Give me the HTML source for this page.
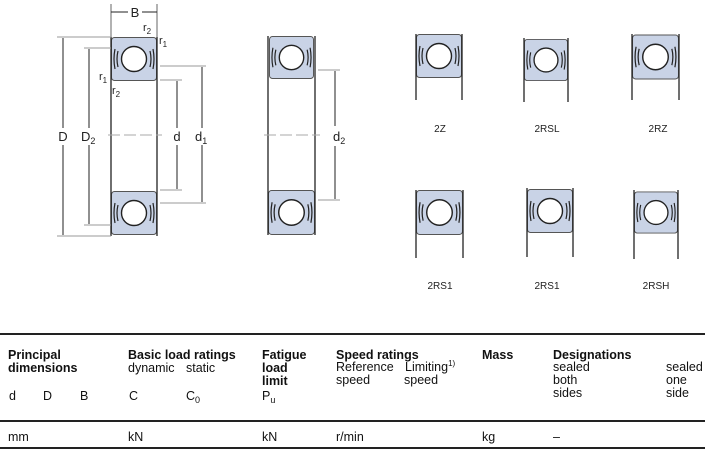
<!DOCTYPE html>
<html><head><meta charset="utf-8"><style>
html,body{margin:0;padding:0;background:#fff;}
svg{display:block;}
text{font-family:"Liberation Sans",sans-serif;}
</style></head><body>
<svg width="705" height="465" viewBox="0 0 705 465" xmlns="http://www.w3.org/2000/svg">
<defs>
<symbol id="blk" viewBox="0 0 46 44" width="46" height="44" overflow="visible">
<rect x="0.5" y="0.5" width="45" height="43" rx="3" fill="#c9d3e6" stroke="#555" stroke-width="1"/>
<circle cx="23" cy="22" r="12.5" fill="#fff" stroke="#222" stroke-width="1.4"/>
<path d="M4 12 q-2 10 0 20 M7 14 q-2 8 0 16 M42 12 q2 10 0 20 M39 14 q2 8 0 16" fill="none" stroke="#222" stroke-width="1.2"/>
</symbol>
</defs>
<g stroke="#222" stroke-width="1" fill="none">
<use href="#blk" x="111" y="37" width="46" height="44"/>
<use href="#blk" x="111" y="190" width="46" height="46"/>
<line x1="111" y1="37" x2="111" y2="236" stroke-width="1.3"/>
<line x1="157" y1="37" x2="157" y2="236" stroke-width="1.3"/>
<line x1="108" y1="135" x2="162" y2="135" stroke="#aaa" stroke-dasharray="12,4"/>
<line x1="111" y1="4" x2="111" y2="37" stroke="#666"/><line x1="157" y1="4" x2="157" y2="37" stroke="#666"/>
<line x1="111" y1="12" x2="128" y2="12"/><line x1="142" y1="12" x2="157" y2="12"/>
<line x1="57" y1="37" x2="111" y2="37" stroke="#999"/><line x1="57" y1="236" x2="111" y2="236" stroke="#999"/>
<line x1="63" y1="38" x2="63" y2="128"/><line x1="63" y1="145" x2="63" y2="235"/>
<line x1="84" y1="48" x2="111" y2="48" stroke="#999"/><line x1="84" y1="225" x2="111" y2="225" stroke="#999"/>
<line x1="89" y1="49" x2="89" y2="128"/><line x1="89" y1="145" x2="89" y2="224"/>
<line x1="160" y1="80" x2="182" y2="80" stroke="#999"/><line x1="160" y1="190" x2="182" y2="190" stroke="#999"/>
<line x1="177" y1="81" x2="177" y2="128"/><line x1="177" y1="145" x2="177" y2="189"/>
<line x1="160" y1="66" x2="206" y2="66" stroke="#999"/><line x1="160" y1="203" x2="206" y2="203" stroke="#999"/>
<line x1="202" y1="67" x2="202" y2="128"/><line x1="202" y1="145" x2="202" y2="202"/>
<use href="#blk" x="268" y="36" width="47" height="43"/>
<use href="#blk" x="268" y="190" width="47" height="45"/>
<line x1="268" y1="36" x2="268" y2="235" stroke-width="1.3"/>
<line x1="315" y1="36" x2="315" y2="235" stroke-width="1.3"/>
<line x1="264" y1="135" x2="320" y2="135" stroke="#aaa" stroke-dasharray="12,4"/>
<line x1="318" y1="70" x2="340" y2="70" stroke="#999"/><line x1="318" y1="200" x2="340" y2="200" stroke="#999"/>
<line x1="335" y1="71" x2="335" y2="126"/><line x1="335" y1="146" x2="335" y2="199"/>
<use href="#blk" x="416" y="34" width="46" height="44"/><line x1="416" y1="34" x2="416" y2="100" stroke-width="1.3"/><line x1="462" y1="34" x2="462" y2="100" stroke-width="1.3"/>
<use href="#blk" x="524" y="38" width="44" height="44"/><line x1="524" y1="38" x2="524" y2="102" stroke-width="1.3"/><line x1="568" y1="38" x2="568" y2="102" stroke-width="1.3"/>
<use href="#blk" x="632" y="34" width="47" height="46"/><line x1="632" y1="34" x2="632" y2="100" stroke-width="1.3"/><line x1="679" y1="34" x2="679" y2="100" stroke-width="1.3"/>
<use href="#blk" x="416" y="190" width="47" height="45"/><line x1="416" y1="190" x2="416" y2="258" stroke-width="1.3"/><line x1="463" y1="190" x2="463" y2="258" stroke-width="1.3"/>
<use href="#blk" x="527" y="188" width="46" height="46"/><line x1="527" y1="188" x2="527" y2="257" stroke-width="1.3"/><line x1="573" y1="188" x2="573" y2="257" stroke-width="1.3"/>
<use href="#blk" x="634" y="190" width="44" height="45"/><line x1="634" y1="190" x2="634" y2="259" stroke-width="1.3"/><line x1="678" y1="190" x2="678" y2="259" stroke-width="1.3"/>
<line x1="0" y1="334" x2="705" y2="334" stroke-width="2"/>
<line x1="0" y1="421" x2="705" y2="421" stroke-width="2"/>
<line x1="0" y1="448" x2="705" y2="448" stroke-width="2"/>
</g>
<g fill="#222" font-size="13">
<text x="135" y="17" text-anchor="middle">B</text>
<text x="143" y="31" font-size="11">r<tspan font-size="8" dy="3">2</tspan></text>
<text x="159" y="44" font-size="11">r<tspan font-size="8" dy="3">1</tspan></text>
<text x="99" y="80" font-size="11">r<tspan font-size="8" dy="3">1</tspan></text>
<text x="112" y="94" font-size="11">r<tspan font-size="8" dy="3">2</tspan></text>
<text x="63" y="141" text-anchor="middle">D</text>
<text x="81" y="141">D<tspan font-size="9" dy="3">2</tspan></text>
<text x="177" y="141" text-anchor="middle">d</text>
<text x="195" y="141">d<tspan font-size="9" dy="3">1</tspan></text>
<text x="333" y="141">d<tspan font-size="9" dy="3">2</tspan></text>
</g>
<g fill="#222" font-size="10" text-anchor="middle">
<text x="440" y="132">2Z</text><text x="547" y="132">2RSL</text><text x="658" y="132">2RZ</text>
<text x="440" y="289">2RS1</text><text x="547" y="289">2RS1</text><text x="656" y="289">2RSH</text>
</g>
<g fill="#111" font-size="12.5">
<g font-weight="bold">
<text x="8" y="359">Principal</text><text x="8" y="372">dimensions</text>
<text x="128" y="359">Basic load ratings</text>
<text x="262" y="359">Fatigue</text><text x="262" y="372">load</text><text x="262" y="385">limit</text>
<text x="336" y="359">Speed ratings</text>
<text x="482" y="359">Mass</text>
<text x="553" y="359">Designations</text>
</g>
<text x="128" y="372">dynamic</text><text x="186" y="372">static</text>
<text x="336" y="371">Reference</text><text x="405" y="371">Limiting<tspan font-size="8" dy="-5">1)</tspan></text>
<text x="336" y="384">speed</text><text x="404" y="384">speed</text>
<text x="553" y="371">sealed</text><text x="553" y="384">both</text><text x="553" y="397">sides</text>
<text x="666" y="371">sealed</text><text x="666" y="384">one</text><text x="666" y="397">side</text>
<text x="9" y="400">d</text><text x="43" y="400">D</text><text x="80" y="400">B</text>
<text x="129" y="400">C</text><text x="186" y="400">C<tspan font-size="9" dy="3">0</tspan></text>
<text x="262" y="400">P<tspan font-size="9" dy="3">u</tspan></text>
<text x="8" y="441">mm</text><text x="128" y="441">kN</text><text x="262" y="441">kN</text>
<text x="336" y="441">r/min</text><text x="482" y="441">kg</text><text x="553" y="441">–</text>
</g>
</svg>
</body></html>
